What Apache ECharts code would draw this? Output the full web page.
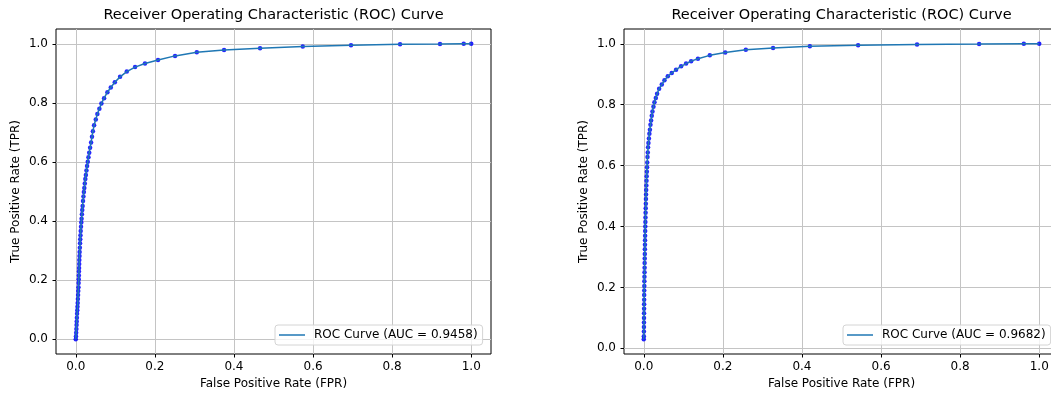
<!DOCTYPE html>
<html><head><meta charset="utf-8">
<script src="https://cdn.jsdelivr.net/npm/echarts@6/dist/echarts.min.js"></script>
<style>html,body{margin:0;padding:0;background:#fff}#c{width:1051px;height:394px}</style>
</head><body><div id="c"></div>
<script>
const titleText = 'Receiver Operating Characteristic (ROC) Curve';
const xName = 'False Positive Rate (FPR)';
const yName = 'True Positive Rate (TPR)';
const tickValues = [0, 0.2, 0.4, 0.6, 0.8, 1.0];
const labelA = 'ROC Curve (AUC = 0.9458)';
const labelB = 'ROC Curve (AUC = 0.9682)';

const fprA = [0.0000,0.0005,0.0010,0.0015,0.0020,0.0024,0.0028,0.0033,0.0038,0.0043,0.0048,0.0053,0.0058,0.0063,0.0068,0.0072,0.0075,0.0078,0.0080,0.0083,0.0087,0.0090,0.0094,0.0098,0.0103,0.0108,0.0113,0.0119,0.0125,0.0132,0.0139,0.0147,0.0155,0.0164,0.0173,0.0183,0.0194,0.0205,0.0216,0.0228,0.0241,0.0255,0.0270,0.0286,0.0303,0.0321,0.0340,0.0362,0.0387,0.0410,0.0433,0.0463,0.0506,0.0546,0.0597,0.0648,0.0716,0.0800,0.0885,0.0987,0.1120,0.1290,0.1500,0.1750,0.2080,0.2510,0.3060,0.3750,0.4660,0.5740,0.6960,0.8200,0.9210,0.9810,1.0000];
const tprA = [0.000,0.010,0.022,0.035,0.048,0.060,0.073,0.086,0.098,0.110,0.123,0.136,0.150,0.163,0.176,0.190,0.203,0.216,0.229,0.241,0.255,0.268,0.282,0.295,0.310,0.325,0.338,0.352,0.366,0.381,0.395,0.408,0.423,0.437,0.451,0.468,0.483,0.498,0.512,0.527,0.542,0.556,0.571,0.586,0.601,0.616,0.631,0.648,0.666,0.685,0.704,0.724,0.744,0.762,0.780,0.798,0.816,0.836,0.852,0.870,0.888,0.906,0.921,0.933,0.945,0.959,0.971,0.979,0.985,0.991,0.995,0.998,0.999,1.000,1.000];

const fprB = [0.0000,0.0002,0.0003,0.0004,0.0005,0.0006,0.0007,0.0008,0.0009,0.0010,0.0011,0.0012,0.0014,0.0015,0.0017,0.0019,0.0021,0.0022,0.0024,0.0026,0.0028,0.0030,0.0032,0.0034,0.0036,0.0038,0.0041,0.0043,0.0046,0.0049,0.0052,0.0055,0.0058,0.0061,0.0065,0.0069,0.0073,0.0078,0.0083,0.0088,0.0094,0.0101,0.0108,0.0118,0.0130,0.0142,0.0155,0.0169,0.0185,0.0202,0.0220,0.0245,0.0270,0.0304,0.0337,0.0388,0.0455,0.0523,0.0607,0.0708,0.0817,0.0944,0.1070,0.1197,0.1370,0.1670,0.2060,0.2580,0.3270,0.4200,0.5420,0.6910,0.8480,0.9610,1.0000];
const tprB = [0.030,0.040,0.055,0.070,0.085,0.100,0.115,0.130,0.145,0.160,0.175,0.190,0.205,0.220,0.235,0.250,0.265,0.280,0.295,0.310,0.325,0.340,0.355,0.370,0.385,0.400,0.415,0.430,0.445,0.460,0.475,0.490,0.505,0.520,0.535,0.550,0.565,0.580,0.595,0.610,0.628,0.643,0.660,0.674,0.689,0.705,0.718,0.734,0.748,0.764,0.778,0.793,0.808,0.822,0.836,0.852,0.866,0.880,0.893,0.904,0.915,0.926,0.935,0.943,0.951,0.962,0.971,0.980,0.986,0.992,0.995,0.998,0.999,1.000,1.000];

const FONT = 'DejaVu Sans';
const zip = (a, b) => a.map((v, i) => [v, b[i]]);
const dataA = zip(fprA, tprA), dataB = zip(fprB, tprB);
const isTick = v => tickValues.some(t => Math.abs(t - v) < 1e-9);
const fmt = v => isTick(v) ? v.toFixed(1) : '';
const txt = {fontFamily: FONT, fontSize: 12, color: '#000'};

function axis(gi, isX, min, max) {
  return {
    gridIndex: gi, type: 'value', min: min, max: max,
    splitNumber: 5, minInterval: 0.2, maxInterval: 0.2,
    name: isX ? xName : yName, nameLocation: 'middle', nameGap: isX ? 23 : 34,
    nameTextStyle: txt,
    axisLine: {show: false, onZero: false},
    axisTick: {show: true, length: 3.5, customValues: tickValues, lineStyle: {color: '#000', width: 1}},
    axisLabel: Object.assign({formatter: fmt, margin: isX ? 7 : 8, customValues: tickValues}, txt),
    splitLine: {show: true, lineStyle: {color: '#c4c4c4', width: 1}}
  };
}

function legend(name, left) {
  return {
    data: [name], left: left, top: 325, orient: 'horizontal', selectedMode: false,
    icon: 'rect', itemWidth: 26, itemHeight: 1.5, padding: [4, 5, 4, 4],
    backgroundColor: 'rgba(255,255,255,0.8)', borderColor: '#d4d4d4', borderWidth: 1, borderRadius: 3,
    textStyle: Object.assign({padding: [0, 0, 0, 4]}, txt)
  };
}

function title(cx) {
  return {text: titleText, left: cx, top: 8, textAlign: 'center', padding: 0,
    textStyle: {fontFamily: FONT, fontSize: 14.5, fontWeight: 'normal', color: '#000'}};
}

function gridBox(left) {
  return {left: left, top: 29, width: 435, height: 325, show: true, borderColor: '#000', borderWidth: 1,
    backgroundColor: 'transparent', containLabel: false, outerBoundsMode: 'none'};
}

function seriesFor(idx, name, data) {
  return [
    {type: 'scatter', xAxisIndex: idx, yAxisIndex: idx, data: data, symbolSize: 4.5, silent: true,
      itemStyle: {color: '#0000ff', opacity: 0.85}, z: 2},
    {type: 'line', name: name, xAxisIndex: idx, yAxisIndex: idx, data: data, showSymbol: false, silent: true,
      lineStyle: {color: '#1f77b4', width: 1.5}, itemStyle: {color: '#1f77b4'}, z: 3}
  ];
}

const chart = echarts.init(document.getElementById('c'), null, {renderer: 'canvas'});
chart.setOption({
  animation: false,
  backgroundColor: '#fff',
  title: [title(273.5), title(841.5)],
  legend: [legend(labelA, 275), legend(labelB, 843)],
  grid: [gridBox(56), gridBox(624)],
  xAxis: [axis(0, true, -0.05, 1.05), axis(1, true, -0.05, 1.05)],
  yAxis: [axis(0, false, -0.05, 1.05), axis(1, false, -0.0185, 1.0485)],
  series: [].concat(seriesFor(0, labelA, dataA), seriesFor(1, labelB, dataB))
});
</script></body></html>
